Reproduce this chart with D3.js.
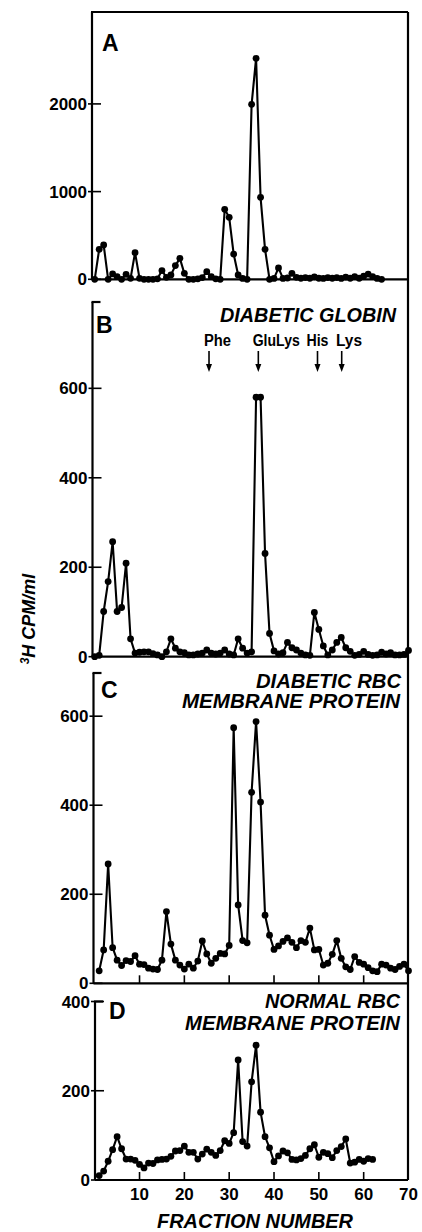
<!DOCTYPE html>
<html><head><meta charset="utf-8">
<script src="https://cdn.jsdelivr.net/npm/d3@7"></script>
<style>html,body{margin:0;padding:0;background:#fff;}svg{display:block;}</style>
</head><body>
<script>
// ---------- DATA ----------
const fracA = d3.range(0, 65);
const valuesA = [0,342,391,0,61,30,0,57,11,304, 11,0,0,0,5,99,23,49,156,239,
  68,0,0,5,20,87,30,5,0,798, 707,288,50,10,0,1995,2520,935,342,0,
  10,130,10,15,68,23,12,20,12,28, 12,10,20,12,20,10,25,12,30,12, 35,60,30,10,0];

const fracB = d3.range(0, 71);
const valuesB = [0,3,101,168,257,101,110,209,40,8, 10,11,11,7,4,0,11,40,19,11,
  9,4,4,6,8,15,8,6,8,15, 6,4,40,19,8,11,580,580,231,52,
  13,6,9,32,20,15,8,4,3,99, 61,24,4,15,32,43,20,12,3,5,
  12,5,3,4,10,6,9,4,4,5, 14];

const fracC = d3.range(1, 71);
const valuesC = [28,75,268,80,52,40,51,49,62,43, 42,34,32,31,52,161,88,52,41,32,
  43,34,50,95,66,45,56,67,66,85, 574,176,96,91,429,588,407,153,108,76,
  84,94,102,92,80,96,92,124,75,76, 41,45,65,96,56,37,31,60,47,43,
  35,28,26,43,41,34,31,38,43,28];

const fracD = d3.range(1, 63);
const valuesD = [10,20,42,68,97,70,47,47,44,35, 27,38,37,45,46,47,53,65,66,76,
  62,62,47,58,69,62,55,66,88,82, 106,269,86,76,220,302,152,97,72,41,
  54,65,61,46,45,48,55,70,79,51, 62,59,50,66,75,92,38,40,46,42, 48,46];

const ticksA = [0, 1000, 2000];
const ticksB = [0, 200, 400, 600];
const ticksC = [0, 200, 400, 600];
const ticksD = [0, 200, 400];
const xTicks = [10, 20, 30, 40, 50, 60, 70];

const markerNames = ["Phe", "GluLys", "His", "Lys"];
const markerFracs = [25.5, 36.5, 49.7, 55.1];

// ---------- LAYOUT ----------
const W = 422, H = 1232;
const rightX = 408;
const x = d3.scaleLinear().domain([0, 70]).range([94.7, 408.5]);

const panels = [
  {letter:"A", fr:fracA, vals:valuesA, ticks:ticksA, max:3048, y0:279.3, top:12,   axisX:92,   full:true,  letterPos:[102,51],  bottomTicks:false},
  {letter:"B", fr:fracB, vals:valuesB, ticks:ticksB, max:793,  y0:656.7, top:302,  axisX:92.5, full:false, letterPos:[96,333],  bottomTicks:false},
  {letter:"C", fr:fracC, vals:valuesC, ticks:ticksC, max:697,  y0:983.3, top:673,  axisX:93.5, full:false, letterPos:[101,698], bottomTicks:true},
  {letter:"D", fr:fracD, vals:valuesD, ticks:ticksD, max:400,  y0:1180,  top:1001.5,axisX:95, full:false, letterPos:[109,1019],bottomTicks:true}
];

const svg = d3.select("body").append("svg").attr("width", W).attr("height", H);
const NUM = "'Liberation Sans', Arial, sans-serif";

// right border
svg.append("line").attr("x1", rightX).attr("x2", rightX).attr("y1", 12).attr("y2", 1180)
  .attr("stroke", "#000").attr("stroke-width", 2.2);

panels.forEach(p => {
  const y = d3.scaleLinear().domain([0, p.max]).range([p.y0, p.top]);
  const g = svg.append("g");
  g.append("line").attr("x1", p.axisX).attr("x2", p.axisX).attr("y1", p.top).attr("y2", p.y0)
    .attr("stroke", "#000").attr("stroke-width", 2.2);
  g.append("line").attr("x1", p.axisX - 1).attr("x2", p.full ? rightX : p.axisX + 8)
    .attr("y1", p.top).attr("y2", p.top).attr("stroke", "#000").attr("stroke-width", 2.2);
  g.append("line").attr("x1", p.axisX).attr("x2", rightX).attr("y1", p.y0).attr("y2", p.y0)
    .attr("stroke", "#000").attr("stroke-width", 2.2);
  p.ticks.forEach(t => {
    g.append("line").attr("x1", p.axisX - 4).attr("x2", p.axisX + 9)
      .attr("y1", y(t)).attr("y2", y(t)).attr("stroke", "#000").attr("stroke-width", 1.6);
    g.append("text").attr("x", p.axisX - 5).attr("y", y(t)).attr("dy", "0.36em")
      .attr("text-anchor", "end").attr("font-family", NUM).attr("font-weight", "bold")
      .attr("font-size", 17).text(t);
  });
  if (p.bottomTicks) {
    xTicks.filter(t => t < 70).forEach(t => {
      g.append("line").attr("x1", x(t)).attr("x2", x(t)).attr("y1", p.y0).attr("y2", p.y0 - 8)
        .attr("stroke", "#000").attr("stroke-width", 1.6);
    });
  }
  const pts = p.fr.map((f, i) => [f, p.vals[i]]);
  g.append("path").datum(pts)
    .attr("d", d3.line().x(d => x(d[0])).y(d => y(d[1])))
    .attr("fill", "none").attr("stroke", "#000").attr("stroke-width", 2.1).attr("stroke-linejoin", "round");
  g.selectAll("circle").data(pts).join("circle")
    .attr("cx", d => x(d[0])).attr("cy", d => y(d[1])).attr("r", 3.4).attr("fill", "#000");
  g.append("text").attr("x", p.letterPos[0]).attr("y", p.letterPos[1])
    .attr("font-family", NUM).attr("font-weight", "bold").attr("font-size", 23).text(p.letter);
});

xTicks.forEach(t => {
  svg.append("text").attr("x", x(t)).attr("y", 1200).attr("text-anchor", "middle")
    .attr("font-family", NUM).attr("font-weight", "bold").attr("font-size", 17).text(t);
});

function ital(txt, xEnd, yBase, len) {
  svg.append("text").attr("x", xEnd).attr("y", yBase).attr("text-anchor", "end")
    .attr("font-family", NUM).attr("font-style", "italic").attr("font-weight", "bold")
    .attr("font-size", 20).attr("textLength", len).attr("lengthAdjust", "spacingAndGlyphs").text(txt);
}
ital("DIABETIC GLOBIN", 396, 322, 176);
ital("DIABETIC RBC", 401, 688, 145);
ital("MEMBRANE PROTEIN", 400, 708, 218);
ital("NORMAL RBC", 400, 1008, 135);
ital("MEMBRANE PROTEIN", 400, 1030, 215);

svg.append("text").attr("x", 255).attr("y", 1228).attr("text-anchor", "middle")
  .attr("font-family", NUM).attr("font-style", "italic").attr("font-weight", "bold")
  .attr("font-size", 20).attr("textLength", 196).attr("lengthAdjust", "spacingAndGlyphs")
  .text("FRACTION NUMBER");

const markerTextOffset = [-5, -5.6, -11, -5.7];
const markerTextLen = [27, 47, 22, 26];
markerNames.forEach((n, i) => {
  const mx = x(markerFracs[i]);
  svg.append("text").attr("x", mx + markerTextOffset[i]).attr("y", 346)
    .attr("font-family", NUM).attr("font-weight", "bold").attr("font-size", 16)
    .attr("textLength", markerTextLen[i]).attr("lengthAdjust", "spacingAndGlyphs").text(n);
  svg.append("line").attr("x1", mx).attr("x2", mx).attr("y1", 351).attr("y2", 368)
    .attr("stroke", "#000").attr("stroke-width", 1.6);
  svg.append("path").attr("d", `M${mx-3},${364} L${mx},${372} L${mx+3},${364} Z`).attr("fill", "#000");
});

const yt = svg.append("text").attr("transform", "translate(35,619) rotate(-90)")
  .attr("text-anchor", "middle").attr("font-family", NUM).attr("font-style", "italic")
  .attr("font-weight", "bold").attr("font-size", 18);
yt.append("tspan").attr("font-size", 12).attr("dy", -6).text("3");
yt.append("tspan").attr("dy", 6).text("H CPM/ml");
</script>
</body></html>
